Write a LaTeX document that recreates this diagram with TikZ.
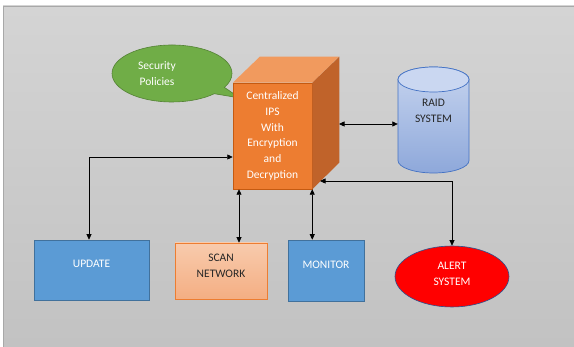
\documentclass[tikz,border=0pt]{standalone}
\usepackage{fontspec}
\setmainfont{Carlito}
\usetikzlibrary{shapes.geometric,shapes.callouts,arrows.meta,calc}
\definecolor{bgtop}{HTML}{D4D4D4}
\definecolor{bgbot}{HTML}{C2C2C2}
\definecolor{bgline}{HTML}{A8A8A8}
\definecolor{orfront}{HTML}{ED7D31}
\definecolor{ortop}{HTML}{F19A5E}
\definecolor{orside}{HTML}{C0632A}
\definecolor{orline}{HTML}{C55A11}
\definecolor{grfill}{HTML}{70AD47}
\definecolor{grline}{HTML}{548235}
\definecolor{raidtop}{HTML}{C6D4EF}
\definecolor{raidbot}{HTML}{8EA8DA}
\definecolor{raidcap}{HTML}{CAD7F1}
\definecolor{raidline}{HTML}{4472C4}
\definecolor{bluefill}{HTML}{5B9BD5}
\definecolor{blueline}{HTML}{41719C}
\definecolor{scantop}{HTML}{F8CBAD}
\definecolor{scanbot}{HTML}{F4AE83}
\definecolor{alertline}{HTML}{2F528F}
\definecolor{darktext}{HTML}{262626}
\begin{document}
\begin{tikzpicture}[x=1pt,y=1pt,
  font=\fontsize{11.5}{15.8}\selectfont,
  tip/.tip={Triangle[length=5.5pt,width=5pt]},
  conn/.style={draw=black,line width=0.7pt,{tip}-{tip}},
  bluebox/.style={rectangle,fill=bluefill,draw=blueline,line width=0.6pt,inner sep=0pt},
  boxlabel/.style={text=white}]
\useasboundingbox (0,0) rectangle (574,347);
\fill[white] (0,0) rectangle (574,347);
\shade[top color=bgtop,bottom color=bgbot] (3,0) rectangle (574,341);
\draw[bgline,line width=0.8pt] (3,0) -- (3,341) -- (574,341);

% callout
\node[ellipse callout,fill=grfill,draw=grline,line width=0.6pt,
  minimum width=120,minimum height=57,inner sep=0pt,
  callout absolute pointer={(240,249)},callout pointer arc=16] (sec) at (172,273.5) {};
\node[text=white,align=center,inner sep=0pt] (sectext) at (157,273.5) {Security\\Policies};

% cube
\node[rectangle,fill=orfront,draw=orline,line width=0.5pt,minimum width=79,minimum height=106,
  inner sep=0pt,text=white,align=center] (ips) at (272.5,211)
  {Centralized\\IPS\\With\\Encryption\\and\\Decryption};
\fill[ortop] (ips.north west) -- ++(27,26) -- ++(79,0) -- (ips.north east) -- cycle;
\fill[orside] (ips.north east) -- ++(27,26) -- ++(0,-106) -- (ips.south east) -- cycle;

% RAID cylinder
\shade[top color=raidtop,bottom color=raidbot,draw=raidline,line width=0.7pt]
  (398,267.5) -- (398,186.5) arc (180:360:35.5 and 12.5) -- (469,267.5) arc (0:180:35.5 and 12.5) -- cycle;
\filldraw[fill=raidcap,draw=raidline,line width=0.7pt] (433.5,267.5) ellipse (35.5 and 12.5);
\node[rectangle,minimum width=71,minimum height=106,inner sep=0pt,
  label={[text=darktext,align=center,yshift=9pt]center:RAID\\SYSTEM}] (raid) at (433.5,227) {};

% bottom boxes
\node[bluebox,minimum width=115,minimum height=60,
  label={[boxlabel,yshift=6pt]center:UPDATE}] (update) at (91.5,77) {};
\node[rectangle,top color=scantop,bottom color=scanbot,draw=orfront,line width=0.6pt,
  minimum width=92,minimum height=56,inner sep=0pt,
  label={[text=darktext,align=center,yshift=5pt]center:SCAN\\NETWORK}] (scan) at (221,76) {};
\node[bluebox,minimum width=76,minimum height=61,
  label={[boxlabel,yshift=5.5pt]center:MONITOR}] (monitor) at (326,76.5) {};
\node[ellipse,fill=red,draw=alertline,line width=0.6pt,minimum width=114,minimum height=61,inner sep=0pt,
  label={[boxlabel,align=center,yshift=2.5pt]center:ALERT\\SYSTEM}] (alert) at (452,70.5) {};

% connectors
\coordinate (c1) at (89,190);
\draw[conn] (ips.west |- c1) -- (c1) -- (c1 |- update.north);
\coordinate (c2) at (239,0);
\draw[conn] (c2 |- ips.south) -- (c2 |- scan.north);
\draw[conn] (ips.south east) -- (ips.south east |- monitor.north);
\coordinate (c4) at (339,223);
\draw[conn] (c4) -- (c4 -| raid.west);
\coordinate (c5) at (320,166);
\draw[conn] (c5) -- (c5 -| alert.north) -- (alert.north);
\end{tikzpicture}
\end{document}
